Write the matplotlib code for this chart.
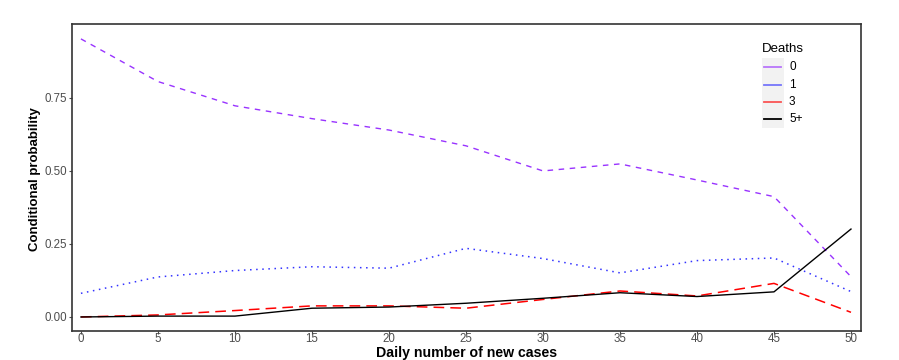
import matplotlib
matplotlib.use("Agg")
import matplotlib.pyplot as plt
from matplotlib.lines import Line2D
from matplotlib.patches import Rectangle

plt.rcParams['font.family'] = ['Liberation Sans', 'DejaVu Sans']

new_cases = [0, 5, 10, 15, 20, 25, 30, 35, 40, 45, 50]
deaths_0 = [0.952, 0.806, 0.723, 0.679, 0.640, 0.586, 0.500, 0.524, 0.469, 0.412, 0.138]
deaths_1 = [0.081, 0.137, 0.159, 0.172, 0.167, 0.235, 0.200, 0.151, 0.193, 0.202, 0.087]
deaths_3 = [0.000, 0.007, 0.022, 0.038, 0.038, 0.030, 0.060, 0.089, 0.072, 0.115, 0.016]
deaths_5 = [0.000, 0.003, 0.003, 0.030, 0.034, 0.047, 0.064, 0.083, 0.070, 0.086, 0.301]
labels = ["0", "1", "3", "5+"]
colors = ["#9933FF", "#3333FF", "#FF0000", "#000000"]

W, H = 899, 360
fig = plt.figure(figsize=(W / 100, H / 100), dpi=100)
ax = fig.add_axes([72 / W, 1 - 331 / H, 789 / W, 307 / H])

ax.plot(new_cases, deaths_0, color=colors[0], lw=1, dashes=(4, 4))
ax.plot(new_cases, deaths_1, color=colors[1], lw=1.1, dashes=(1, 3))
ax.plot(new_cases, deaths_3, color=colors[2], lw=1.1, dashes=(7, 4))
ax.plot(new_cases, deaths_5, color=colors[3], lw=1)

ax.set_xlim(-0.58, 50.65)
ax.set_ylim(-0.048, 1.003)
ax.set_xticks(new_cases)
ax.set_yticks([0, 0.25, 0.5, 0.75])
ax.set_yticklabels(["0.00", "0.25", "0.50", "0.75"])
ax.tick_params(axis='both', colors='#4D4D4D', labelsize=8.3, length=2.5, width=0.8)
ax.tick_params(axis='x', pad=-1.2)
ax.tick_params(axis='y', pad=1)
for s in ax.spines.values():
    s.set_color('#333333')
    s.set_linewidth(1.2)

ax.set_xlabel("Daily number of new cases", fontweight='bold', fontsize=10.2, va='center')
ax.set_ylabel("Conditional probability", fontweight='bold', fontsize=9.5, va='center')
ax.xaxis.set_label_coords(0.5, (331 - 352.5) / 307)
ax.yaxis.set_label_coords((35 - 72) / 789, (331 - 179) / 307)

# legend drawn by hand: title, grey key panel, solid keys
fig.text(762 / W, 1 - 49 / H, "Deaths", fontsize=9.5, va='center', ha='left')
fig.patches.append(Rectangle((762 / W, 1 - 128 / H), 22 / W, 70 / H,
                             transform=fig.transFigure, facecolor='#F2F2F2',
                             edgecolor='none', zorder=0))
row_y = [67.3, 84.5, 101.7, 119.3]
for lab, c, yy in zip(labels, colors, row_y):
    fig.lines.append(Line2D([764 / W, 781 / W], [1 - yy / H] * 2, transform=fig.transFigure,
                            color=c, lw=1.3, alpha=0.65 if c != "#000000" else 1))
    fig.text(789 / W, 1 - yy / H, lab, fontsize=8.5, va='center', ha='left')

fig.savefig("out.png", dpi=100)
